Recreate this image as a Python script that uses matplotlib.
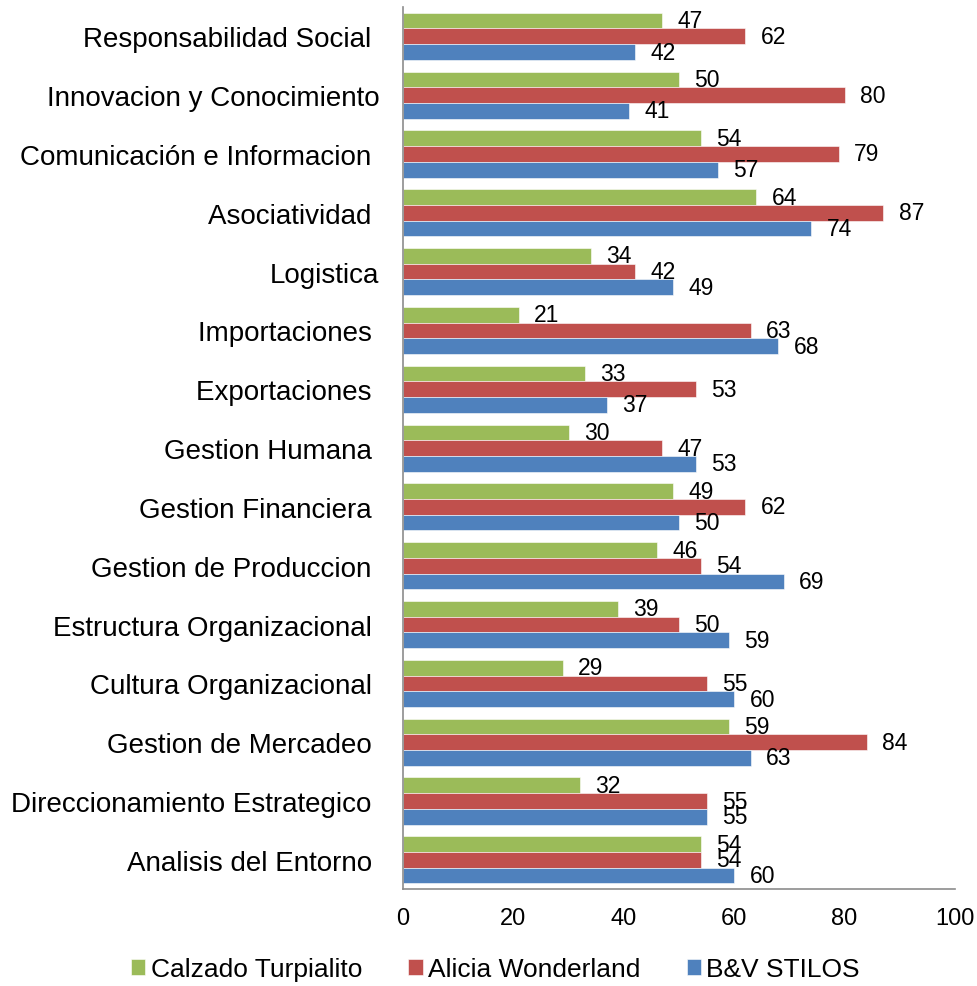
import numpy as np
import matplotlib.pyplot as plt

plt.rcParams["font.family"] = ["Liberation Sans", "DejaVu Sans"]

# -------------------------------
# Data (top to bottom as shown)
# -------------------------------
categories = [
    "Responsabilidad Social ",
    "Innovacion y Conocimiento",
    "Comunicación e Informacion ",
    "Asociatividad ",
    "Logistica",
    "Importaciones ",
    "Exportaciones ",
    "Gestion Humana ",
    "Gestion Financiera ",
    "Gestion de Produccion ",
    "Estructura Organizacional ",
    "Cultura Organizacional ",
    "Gestion de Mercadeo ",
    "Direccionamiento Estrategico ",
    "Analisis del Entorno ",
]
calzado = [47, 50, 54, 64, 34, 21, 33, 30, 49, 46, 39, 29, 59, 32, 54]
alicia = [62, 80, 79, 87, 42, 63, 53, 47, 62, 54, 50, 55, 84, 55, 54]
bv = [42, 41, 57, 74, 49, 68, 37, 53, 50, 69, 59, 60, 63, 55, 60]

series = [
    ("Calzado Turpialito", calzado, "#9BBB59"),
    ("Alicia Wonderland", alicia, "#C0504D"),
    ("B&V STILOS", bv, "#4F81BD"),
]

# -------------------------------
# Plot
# -------------------------------
fig = plt.figure(figsize=(9.77, 9.87), dpi=100)
ax = fig.add_axes([0.4125, 0.098, 0.565, 0.894])

n = len(categories)
y = np.arange(n)[::-1]
h = 0.267
offsets = [h, 0, -h]

for (name, vals, color), off in zip(series, offsets):
    bars = ax.barh(y + off, vals, height=h, color=color, label=name,
                   edgecolor="white", linewidth=0.4)
    for b, v in zip(bars, vals):
        ax.annotate(str(v), (b.get_width(), b.get_y() + b.get_height() / 2),
                    xytext=(11, 0), textcoords="offset points",
                    ha="left", va="center", fontsize=16.5)

ax.set_xlim(0, 100)
ax.set_ylim(-0.5, n - 0.5)
ax.set_xticks(range(0, 101, 20))
ax.set_yticks(y)
ax.set_yticklabels(categories, fontsize=20)
ax.tick_params(axis="y", length=0, pad=17)
ax.tick_params(axis="x", length=0, pad=13, labelsize=17)

for s in ["top", "right"]:
    ax.spines[s].set_visible(False)
for s in ["left", "bottom"]:
    ax.spines[s].set_color("#8C8C8C")
    ax.spines[s].set_linewidth(1.2)

fig.legend(loc="lower center", bbox_to_anchor=(0.507, -0.019), ncol=3,
           frameon=False, fontsize=19, handlelength=0.55, handleheight=0.55,
           handletextpad=0.2, columnspacing=1.75)

fig.savefig("out.png", dpi=100)
